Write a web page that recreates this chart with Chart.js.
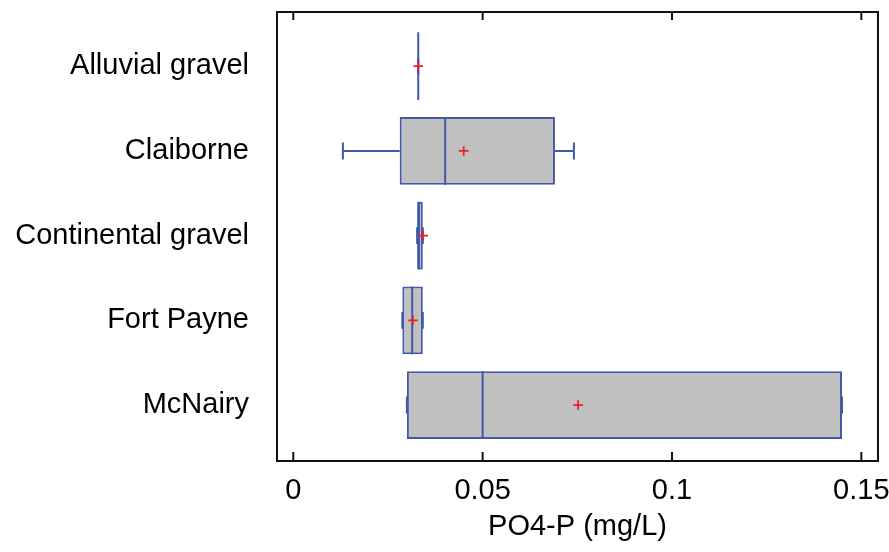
<!DOCTYPE html>
<html>
<head>
<meta charset="utf-8">
<script src="https://cdn.jsdelivr.net/npm/chart.js@4.4.1/dist/chart.umd.min.js"></script>
<style>
  html, body { margin: 0; padding: 0; background: #ffffff; }
  #wrap { width: 889px; height: 552px; }
</style>
</head>
<body>
<div id="wrap"><canvas id="c" width="889" height="552"></canvas></div>
<script>
// ---- data ----
const categories  = ['Alluvial gravel', 'Claiborne', 'Continental gravel', 'Fort Payne', 'McNairy'];
const whiskerLow  = [0.033, 0.0131, 0.0327, 0.0288, 0.030];
const q1          = [0.033, 0.0281, 0.0327, 0.0288, 0.030];
const median      = [0.033, 0.0401, 0.0332, 0.0314, 0.050];
const q3          = [0.033, 0.0691, 0.0342, 0.0342, 0.1449];
const whiskerHigh = [0.033, 0.0741, 0.0342, 0.0342, 0.1449];
const mean        = [0.033, 0.0450, 0.0343, 0.0316, 0.0752];
const xTickValues = [0, 0.05, 0.1, 0.15];
const xTickLabels = ['0', '0.05', '0.1', '0.15'];
const xAxisTitle  = 'PO4-P (mg/L)';

// ---- build library datasets from the arrays ----
const BOX_HALF = 0.4, CAP_HALF = 0.1;
const gap = () => ({ x: NaN, y: NaN });
const boxData = categories.map((_, i) => ({ x: [q1[i], q3[i]], y: i }));
const medianPts = [];
const whiskerPts = [];
categories.forEach((_, i) => {
  medianPts.push({ x: median[i], y: i - BOX_HALF }, { x: median[i], y: i + BOX_HALF }, gap());
  whiskerPts.push(
    { x: whiskerLow[i], y: i }, { x: q1[i], y: i }, gap(),
    { x: q3[i], y: i }, { x: whiskerHigh[i], y: i }, gap(),
    { x: whiskerLow[i], y: i - CAP_HALF }, { x: whiskerLow[i], y: i + CAP_HALF }, gap(),
    { x: whiskerHigh[i], y: i - CAP_HALF }, { x: whiskerHigh[i], y: i + CAP_HALF }, gap()
  );
});
const meanPts = categories.map((_, i) => ({ x: mean[i], y: i }));

const BLUE = '#4358a8';
const FONT = "'Liberation Sans', Arial, Helvetica, sans-serif";

const framePlugin = {
  id: 'frame',
  afterDraw(chart) {
    const { ctx, chartArea: a } = chart;
    const x = chart.scales.x;
    ctx.save();
    ctx.strokeStyle = '#111111';
    ctx.lineWidth = 2;
    ctx.strokeRect(a.left, a.top, a.right - a.left, a.bottom - a.top);
    ctx.beginPath();
    x.ticks.forEach(t => {
      const px = x.getPixelForValue(t.value);
      ctx.moveTo(px, a.bottom); ctx.lineTo(px, a.bottom - 9);
      ctx.moveTo(px, a.top); ctx.lineTo(px, a.top + 8);
    });
    ctx.stroke();
    ctx.restore();
  }
};

new Chart(document.getElementById('c'), {
  type: 'scatter',
  data: {
    datasets: [
      {
        type: 'scatter', label: 'Mean', data: meanPts, order: 1,
        pointStyle: 'cross', pointRadius: 4.8, pointHoverRadius: 4.8,
        borderColor: '#e8202a', backgroundColor: '#e8202a', borderWidth: 1.7
      },
      {
        type: 'line', label: 'Median', data: medianPts, order: 2,
        borderColor: BLUE, borderWidth: 2, pointRadius: 0, fill: false, tension: 0, spanGaps: false
      },
      {
        type: 'line', label: 'Whiskers', data: whiskerPts, order: 3,
        borderColor: BLUE, borderWidth: 2, pointRadius: 0, fill: false, tension: 0, spanGaps: false
      },
      {
        type: 'bar', label: 'Box', data: boxData, order: 4, indexAxis: 'y',
        backgroundColor: '#c0c0c0', borderColor: BLUE, borderWidth: 2, borderSkipped: false,
        categoryPercentage: 1, barPercentage: 0.8
      }
    ]
  },
  options: {
    responsive: false,
    animation: false,
    events: [],
    layout: { padding: { top: 12, right: 11, bottom: 5, left: 15 } },
    plugins: { legend: { display: false }, tooltip: { enabled: false } },
    scales: {
      x: {
        type: 'linear', position: 'bottom', min: -0.0043, max: 0.1544, offset: false,
        afterBuildTicks: s => { s.ticks = xTickValues.map(v => ({ value: v })); },
        afterFit: s => { s.paddingLeft = 0; s.paddingRight = 0; s.height = 86; },
        grid: { display: false, drawTicks: false, offset: false },
        border: { display: false },
        ticks: {
          padding: 13, color: '#000', maxRotation: 0, autoSkip: false,
          font: { family: FONT, size: 29 },
          callback: v => { const k = xTickValues.indexOf(v); return k >= 0 ? xTickLabels[k] : ''; }
        },
        title: {
          display: true, text: xAxisTitle, color: '#000',
          font: { family: FONT, size: 29 }, padding: { top: 0, bottom: 3 }
        }
      },
      y: {
        type: 'linear', position: 'left', reverse: true, min: -0.64, max: 4.66, offset: false,
        afterBuildTicks: s => { s.ticks = categories.map((_, i) => ({ value: i })); },
        afterFit: s => { s.paddingTop = 0; s.paddingBottom = 0; s.width = 262; },
        grid: { display: false, drawTicks: false, offset: false },
        border: { display: false },
        ticks: {
          padding: 28, color: '#000', autoSkip: false,
          font: { family: FONT, size: 29 },
          callback: v => categories[v] !== undefined ? categories[v] : ''
        }
      }
    }
  },
  plugins: [framePlugin]
});
</script>
</body>
</html>
